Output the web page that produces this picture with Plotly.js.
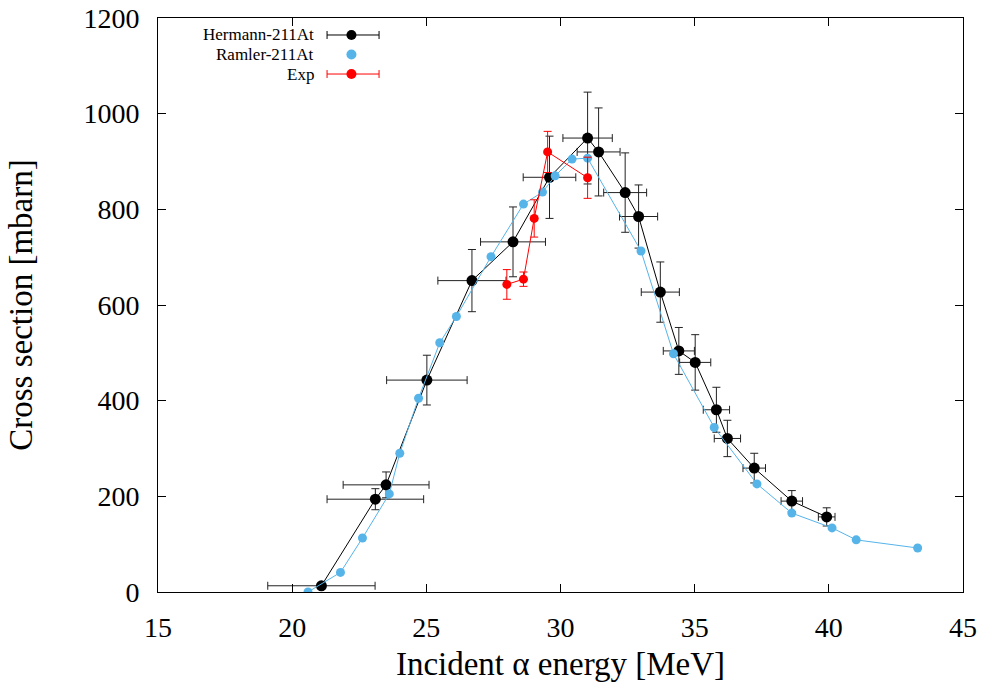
<!DOCTYPE html>
<html>
<head>
<meta charset="utf-8">
<script src="https://cdn.plot.ly/plotly-3.0.1.min.js"></script>
<style>
  html, body { margin: 0; padding: 0; background: #fff; }
  #chart { width: 986px; height: 689px; }
</style>
</head>
<body>
<div id="chart"></div>
<script>
// Hermann-211At: energy [MeV], cross section [mbarn] and their uncertainties
const hermannE     = [21.09, 23.10, 23.50, 25.02, 26.70, 28.23, 29.59, 31.01, 31.42, 32.41, 32.91, 33.72, 34.41, 35.02, 35.81, 36.22, 37.22, 38.62, 39.92];
const hermannXS    = [13, 194, 224, 443, 651, 732, 867, 949, 920, 835, 785, 627, 504, 480, 381, 321, 259, 190, 157];
const hermannEerr  = [2.0, 1.8, 1.6, 1.5, 1.27, 1.21, 0.98, 0.92, 0.8, 0.8, 0.71, 0.71, 0.58, 0.58, 0.49, 0.49, 0.42, 0.40, 0.31];
const hermannXSerr = [3, 22, 27, 52, 65, 73, 86, 96, 92, 83, 66, 63, 49, 58, 47, 38, 31, 22, 19];

// Ramler-211At
const ramlerE  = [20.59, 21.80, 22.62, 23.62, 24.01, 24.71, 25.50, 26.12, 27.41, 28.62, 29.33, 29.80, 30.43, 31.01, 33.00, 34.21, 35.73, 37.32, 38.62, 40.12, 41.02, 43.31];
const ramlerXS = [0, 41, 113, 205, 290, 405, 521, 576, 701, 811, 836, 870, 905, 907, 713, 498, 344, 226, 165, 134, 109, 92];

// Experimental points
const expE     = [28.00, 28.62, 29.02, 29.52, 31.01];
const expXS    = [643, 654, 781, 920, 866];
const expXSerr = [31, 15, 39, 43, 43];

// Legend entries
const legendLabels = ['Hermann-211At', 'Ramler-211At', 'Exp'];

const BLUE = '#56B4E9';
const RED = '#ff0000';
const SERIF = 'Liberation Serif, Times New Roman, serif';

const traces = [
  {
    x: hermannE, y: hermannXS, type: 'scatter', mode: 'lines+markers',
    line: { color: '#000', width: 1 },
    marker: { color: '#000', size: 11 },
    error_x: { type: 'data', array: hermannEerr, visible: true, color: '#222', thickness: 1, width: 4 },
    error_y: { type: 'data', array: hermannXSerr, visible: true, color: '#222', thickness: 1, width: 4 },
    showlegend: false
  },
  {
    x: ramlerE, y: ramlerXS, type: 'scatter', mode: 'lines+markers',
    line: { color: BLUE, width: 1 },
    marker: { color: BLUE, size: 9 },
    showlegend: false
  },
  {
    x: expE, y: expXS, type: 'scatter', mode: 'lines+markers',
    line: { color: RED, width: 1 },
    marker: { color: RED, size: 9 },
    error_y: { type: 'data', array: expXSerr, visible: true, color: RED, thickness: 1, width: 4 },
    showlegend: false
  }
];

// Hand-built legend: right-aligned text with the sample symbol to its right
const rowY = [0.9704, 0.9364, 0.9024];
const textX = 0.1955, symX = 0.2403, barX0 = 0.210, barX1 = 0.2746;
const legendColors = ['#000', BLUE, RED];
const legendHasBar = [true, false, true];

const annotations = legendLabels.map((t, i) => ({
  text: t, xref: 'paper', yref: 'paper', x: textX, y: rowY[i],
  xanchor: 'right', yanchor: 'middle', showarrow: false,
  borderpad: 0,
  font: { family: SERIF, size: 17, color: '#000' }
}));

const shapes = [];
legendLabels.forEach((t, i) => {
  const c = legendColors[i];
  if (legendHasBar[i]) {
    shapes.push({ type: 'line', xref: 'paper', yref: 'paper', x0: barX0, x1: barX1, y0: rowY[i], y1: rowY[i], line: { color: c, width: 1 } });
    [barX0, barX1].forEach(bx => shapes.push({
      type: 'line', xref: 'paper', yref: 'paper', ysizemode: 'pixel', yanchor: rowY[i],
      x0: bx, x1: bx, y0: -4, y1: 4, line: { color: c, width: 1 }
    }));
  }
  shapes.push({
    type: 'circle', xref: 'paper', yref: 'paper',
    xsizemode: 'pixel', ysizemode: 'pixel', xanchor: symX, yanchor: rowY[i],
    x0: -5, x1: 5, y0: -5, y1: 5,
    fillcolor: c, line: { color: c, width: 0 }
  });
});

const axisCommon = {
  showline: true, linecolor: '#000', linewidth: 1, mirror: 'ticks',
  ticks: 'inside', ticklen: 8, tickcolor: '#000', tickwidth: 1,
  showgrid: false, zeroline: false,
  tickfont: { family: SERIF, size: 28, color: '#000' }
};

const layout = {
  width: 986, height: 689,
  margin: { l: 157.5, r: 23, t: 18, b: 97 },
  paper_bgcolor: '#fff', plot_bgcolor: '#fff',
  xaxis: Object.assign({}, axisCommon, {
    range: [15, 45], dtick: 5, tick0: 15, ticklabelstandoff: 10,
    title: { text: 'Incident α energy [MeV]', font: { family: SERIF, size: 33, color: '#000' }, standoff: 10 }
  }),
  yaxis: Object.assign({}, axisCommon, {
    range: [0, 1200], dtick: 200, tick0: 0, ticklabelstandoff: 12,
    title: { text: 'Cross section [mbarn]', font: { family: SERIF, size: 33, color: '#000' }, standoff: 40 }
  }),
  annotations: annotations,
  shapes: shapes
};

Plotly.newPlot('chart', traces, layout, { staticPlot: true });
</script>
</body>
</html>
